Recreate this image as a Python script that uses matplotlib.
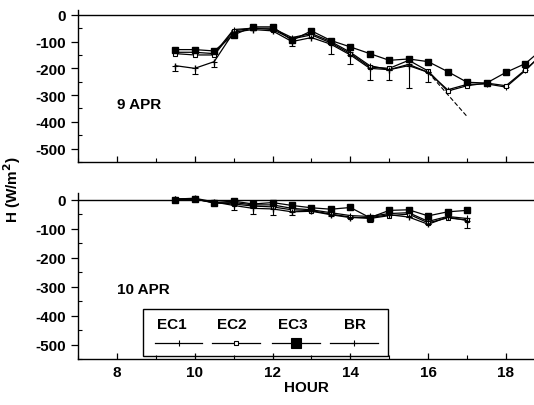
import matplotlib
matplotlib.use("Agg")
import matplotlib.pyplot as plt
from matplotlib.lines import Line2D
from matplotlib.patches import Rectangle
import numpy as np

plt.rcParams['font.family'] = ['Liberation Sans', 'DejaVu Sans']
plt.rcParams['font.weight'] = 'bold'

# ---- data: 9 APR ----
hours_a = [9.5, 10, 10.5, 11, 11.5, 12, 12.5, 13, 13.5, 14, 14.5, 15, 15.5, 16, 16.5, 17, 17.5, 18, 18.5, 19]
ec3_a = [-130, -130, -135, -75, -45, -45, -95, -60, -96, -120, -145, -170, -165, -175, -212, -252, -255, -215, -182, -120]
ec2_a = [-145, -150, -150, -60, -50, -55, -90, -75, -105, -145, -195, -200, -170, -210, -285, -265, -255, -265, -205, -140]
br_a = [-140, -140, -145, -55, -50, -50, -85, -70, -100, -140, -190, -205, -185, -215, -280, -260, -258, -270, -208, -135]
hours_ec1_a = [9.5, 10, 10.5, 11, 11.5, 12, 12.5, 13, 13.5, 14, 14.5, 15, 15.5, 16]
ec1_a = [-190, -200, -175, -65, -55, -60, -100, -85, -110, -150, -200, -205, -190, -215]
ec1_err_a = [20, 20, 20, 0, 0, 0, 15, 0, 35, 35, 45, 40, 85, 35]
hours_ec1_tail = [16, 17]
ec1_tail = [-215, -380]

# ---- data: 10 APR ----
hours_b = [9.5, 10, 10.5, 11, 11.5, 12, 12.5, 13, 13.5, 14, 14.5, 15, 15.5, 16, 16.5, 17]
ec3_b = [0, 2, -10, -5, -15, -10, -20, -28, -33, -27, -62, -37, -35, -56, -42, -37]
ec1_b = [2, 5, -8, -20, -30, -32, -42, -40, -52, -62, -62, -52, -60, -85, -60, -72]
ec1_err_b = [0, 0, 0, 15, 20, 20, 10, 0, 5, 0, 15, 0, 0, 0, 0, 25]
ec2_b = [0, 2, -10, -15, -22, -25, -35, -38, -50, -60, -65, -55, -50, -80, -63, -70]
br_b = [3, 3, -12, -10, -18, -18, -30, -35, -45, -55, -58, -48, -45, -75, -58, -65]

yticks = [0, -100, -200, -300, -400, -500]
xticks = [8, 10, 12, 14, 16, 18]

W, H = 534, 406
fig = plt.figure(figsize=(W / 100, H / 100), dpi=100)
ax1 = fig.add_axes([78 / W, (H - 163) / H, 456 / W, 152 / H])
ax2 = fig.add_axes([78 / W, (H - 360) / H, 456 / W, 166 / H])

lw = 0.9

def style(ax, ylim, labels):
    ax.set_xlim(7.0, 18.72)
    ax.set_ylim(*ylim)
    for s in ['top', 'right']:
        ax.spines[s].set_visible(False)
    for s in ['left', 'bottom']:
        ax.spines[s].set_linewidth(1.0)
    ax.axhline(0, color='black', lw=1.0, zorder=1)
    ax.set_yticks(yticks)
    ax.set_yticks(np.arange(-550, 20, 50), minor=True)
    ax.set_xticks(xticks)
    ax.set_xticks(np.arange(7, 19, 1), minor=True)
    ax.tick_params(axis='y', which='major', direction='out', length=5, width=0.9, labelsize=11)
    ax.tick_params(axis='y', which='minor', direction='in', length=3, width=0.8)
    ax.tick_params(axis='x', which='major', direction='in', length=4, width=0.9, labelsize=11, pad=4)
    ax.tick_params(axis='x', which='minor', direction='in', length=3, width=0.8)
    ax.set_yticklabels([str(v) for v in yticks], fontweight='bold')
    if labels:
        ax.set_xticklabels([str(v) for v in xticks], fontweight='bold')
    else:
        ax.set_xticklabels([])

def draw(ax, hours, ec1, err, ec2, ec3, br, hours_ec1):
    ax.plot(hours, br, color='black', lw=lw, marker='+', ms=4, mew=0.8, zorder=3)
    ax.plot(hours, ec2, color='black', lw=lw, marker='s', ms=3, mfc='white', mew=0.8, zorder=3)
    ax.errorbar(hours_ec1, ec1, yerr=[err, [0] * len(err)], color='black', lw=lw,
                elinewidth=0.8, capsize=2.5, capthick=0.8, marker='|', ms=4, zorder=3)
    ax.plot(hours, ec3, color='black', lw=lw, marker='s', ms=4.6, zorder=4)

style(ax1, (-537, 18), False)
style(ax2, (-520, 23), True)

draw(ax1, hours_a, ec1_a, ec1_err_a, ec2_a, ec3_a, br_a, hours_ec1_a)
ax1.plot(hours_ec1_tail, ec1_tail, color='black', lw=0.8, ls=(0, (4, 2)), zorder=3)
draw(ax2, hours_b, ec1_b, ec1_err_b, ec2_b, ec3_b, br_b, hours_b)

ax1.text(8.0, -332, '9 APR', fontsize=11, fontweight='bold', va='center', ha='left')
ax2.text(8.0, -310, '10 APR', fontsize=11, fontweight='bold', va='center', ha='left')

ax2.set_xlabel('HOUR', fontsize=11, fontweight='bold', labelpad=1)
fig.text(12 / W, 1 - 190 / H, 'H (W/m$^{\\mathbf{2}}$)', rotation=90, fontsize=11,
         fontweight='bold', va='center', ha='center')

# legend box (drawn in axes-fraction coordinates of the lower panel)
def fx(px):
    return (px - 78) / 456
def fy(py):
    return (360 - py) / 166

ax2.add_patch(Rectangle((fx(143), fy(357)), fx(388) - fx(143), fy(310) - fy(357),
                        transform=ax2.transAxes, fill=False, lw=1.0, ec='black', zorder=5))
names = ['EC1', 'EC2', 'EC3', 'BR']
centers = [172, 232, 293, 355]
segs = [(155, 202), (212, 260), (272, 320), (330, 378)]
mk = [dict(marker='|', ms=5), dict(marker='s', ms=3, mfc='white'),
      dict(marker='s', ms=7), dict(marker='+', ms=5)]
for n, c, (a, b), m in zip(names, centers, segs, mk):
    ax2.text(fx(c), fy(325), n, transform=ax2.transAxes, fontsize=11, fontweight='bold',
             ha='center', va='center', zorder=6)
    ax2.add_line(Line2D([fx(a), fx(b)], [fy(344), fy(344)], transform=ax2.transAxes,
                        color='black', lw=0.9, zorder=6))
    ax2.add_line(Line2D([fx((a + b) / 2)], [fy(344)], transform=ax2.transAxes,
                        color='black', mew=0.8, zorder=6, **m))

fig.savefig('out.png', dpi=100)
